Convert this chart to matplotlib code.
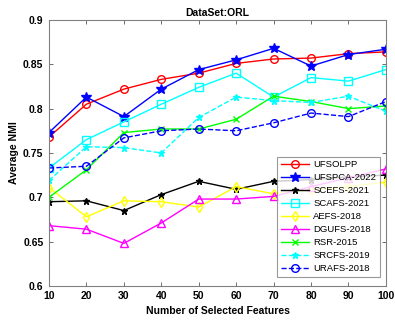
import numpy as np
import matplotlib
matplotlib.use("Agg")
import matplotlib.pyplot as plt

plt.rcParams["font.family"] = ["Liberation Sans", "DejaVu Sans"]

# number of selected features
x = [10, 20, 30, 40, 50, 60, 70, 80, 90, 100]

ufsolpp = [0.768, 0.805, 0.822, 0.833, 0.840, 0.851, 0.856, 0.857, 0.862, 0.864]
ufspca = [0.773, 0.813, 0.791, 0.822, 0.844, 0.855, 0.868, 0.848, 0.861, 0.867]
scefs = [0.695, 0.696, 0.685, 0.703, 0.718, 0.709, 0.718, 0.720, 0.723, 0.725]
scafs = [0.733, 0.765, 0.785, 0.805, 0.824, 0.840, 0.813, 0.835, 0.831, 0.844]
aefs = [0.711, 0.678, 0.696, 0.695, 0.689, 0.712, 0.704, 0.708, 0.712, 0.717]
dgufs = [0.668, 0.664, 0.648, 0.671, 0.698, 0.698, 0.701, 0.712, 0.722, 0.732]
rsr = [0.700, 0.731, 0.773, 0.777, 0.777, 0.788, 0.814, 0.808, 0.800, 0.803]
srcfs = [0.719, 0.757, 0.756, 0.750, 0.790, 0.813, 0.809, 0.807, 0.814, 0.797]
urafs = [0.733, 0.735, 0.767, 0.775, 0.777, 0.775, 0.784, 0.795, 0.791, 0.808]

fig = plt.figure(figsize=(3.95, 3.22), dpi=100)
ax = fig.add_axes([0.124, 0.112, 0.853, 0.826])

lw = 1.0
ms = 5.5
ax.plot(x, ufsolpp, "-o", color="red", lw=lw, ms=ms, mfc="none", label="UFSOLPP")
ax.plot(x, ufspca, "-*", color="blue", lw=lw, ms=ms + 2, label="UFSPCA-2022")
ax.plot(x, scefs, "-*", color="black", lw=lw, ms=4.5, label="SCEFS-2021")
ax.plot(x, scafs, "-s", color="cyan", lw=lw, ms=ms, mfc="none", label="SCAFS-2021")
ax.plot(x, aefs, "-d", color="yellow", lw=lw, ms=ms, mfc="none", label="AEFS-2018")
ax.plot(x, dgufs, "-^", color="magenta", lw=lw, ms=ms, mfc="none", label="DGUFS-2018")
ax.plot(x, rsr, "-x", color="lime", lw=lw, ms=4, label="RSR-2015")
ax.plot(x, srcfs, "--*", color="cyan", lw=lw, ms=4.5, label="SRCFS-2019")
ax.plot(x, urafs, "--o", color="blue", lw=lw, ms=ms, mfc="none", label="URAFS-2018")

ax.set_xlim(10, 100)
ax.set_ylim(0.6, 0.9)
ax.set_xticks(x)
ax.set_yticks([0.6, 0.65, 0.7, 0.75, 0.8, 0.85, 0.9])
ax.set_yticklabels(["0.6", "0.65", "0.7", "0.75", "0.8", "0.85", "0.9"])
ax.tick_params(direction="in", top=True, right=True, length=3, width=0.6,
               color="#555555", labelsize=7.5, pad=4)
for lab in ax.get_xticklabels() + ax.get_yticklabels():
    lab.set_fontweight("bold")
for sp in ax.spines.values():
    sp.set_color("#808080")
    sp.set_linewidth(0.8)

ax.set_title("DataSet:ORL", fontsize=7.5, fontweight="bold", pad=3)
ax.set_xlabel("Number of Selected Features", fontsize=7.5, fontweight="bold", labelpad=3)
ax.set_ylabel("Average NMI", fontsize=7.5, fontweight="bold", labelpad=3)

leg = ax.legend(loc="lower right", bbox_to_anchor=(0.982, 0.034), borderaxespad=0,
                fontsize=6.8, frameon=True, fancybox=False, handlelength=3.0,
                labelspacing=0.42, borderpad=0.4, handletextpad=0.4)
leg.get_frame().set_edgecolor("#808080")
leg.get_frame().set_linewidth(0.8)

fig.savefig("out.png", dpi=100)
